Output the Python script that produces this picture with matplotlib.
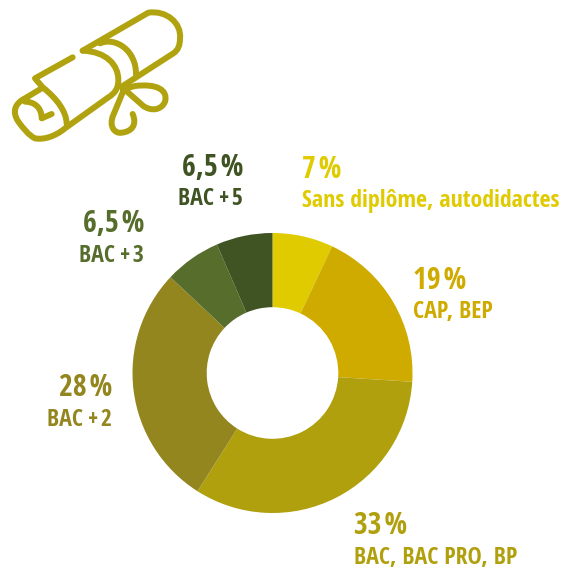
import matplotlib
matplotlib.use("Agg")
import matplotlib.pyplot as plt
from matplotlib import font_manager as fm
from matplotlib.path import Path
from matplotlib.patches import PathPatch

shares = [7, 19, 33, 28, 6.5, 6.5]
percents = ["7\u200a%", "19\u200a%", "33\u200a%", "28\u200a%", "6,5\u200a%", "6,5\u200a%"]
names = ["Sans diplôme, autodidactes", "CAP, BEP", "BAC, BAC PRO, BP",
         "BAC\u2009+\u200a2", "BAC\u2009+\u200a3", "BAC\u2009+\u200a5"]
colors = ["#DFCB00", "#CFAB00", "#B0A00E", "#93861F", "#576D2C", "#3F5323"]

# position du texte en pixels: x, ligne de base du %, ligne de base du nom, alignement
label_pos = [(302, 178, 207, "left"), (413, 289, 318, "left"), (354, 534, 564, "left"),
             (112, 396, 426, "right"), (144, 232, 262, "right"), (243, 176, 205, "right")]

icon_color = "#B0A30F"

# tracés de l'icône, coordonnées du zoom x3
M, L, C = Path.MOVETO, Path.LINETO, Path.CURVE4
icon_paths = [
    [(M, (218, 172)), (L, (105, 235)), (L, (128, 262)),
     (C, (170, 295)), (C, (200, 335)), (C, (200, 372))],
    [(M, (248, 152)), (L, (445, 38)), (C, (500, 30)), (C, (545, 70)), (C, (540, 115)),
     (C, (540, 135)), (C, (535, 150)), (C, (520, 160)), (L, (365, 260))],
    [(M, (248, 152)), (C, (320, 155)), (C, (355, 195)), (C, (355, 240)),
     (C, (355, 265)), (C, (345, 280)), (C, (325, 292)), (L, (195, 385)),
     (C, (165, 410)), (C, (130, 420)), (C, (105, 415)),
     (C, (85, 405)), (C, (70, 385)), (C, (55, 365)),
     (C, (35, 335)), (C, (45, 310)), (C, (75, 295)), (L, (125, 265))],
    [(M, (300, 130)), (C, (345, 110)), (C, (410, 150)), (C, (408, 225))],
    [(M, (75, 305)), (C, (100, 305)), (C, (125, 320)), (C, (125, 355)), (L, (155, 342))],
    [(M, (368, 268)), (L, (405, 258)), (C, (470, 250)), (C, (505, 270)), (C, (495, 305)),
     (C, (485, 330)), (C, (455, 335)), (C, (430, 318)), (L, (378, 272))],
    [(M, (372, 268)), (L, (340, 345)), (C, (325, 380)), (C, (345, 402)), (C, (365, 398)),
     (C, (395, 395)), (C, (412, 375)), (C, (398, 342))],
]


def pick_font():
    for name in ["Open Sans Condensed", "Liberation Sans Narrow", "Roboto Condensed", "Open Sans"]:
        try:
            fm.findfont(name, fallback_to_default=False)
            return name
        except ValueError:
            continue
    return "DejaVu Sans"


plt.rcParams["font.family"] = [pick_font(), "DejaVu Sans"]

W, H = 562, 569
fig = plt.figure(figsize=(W / 100, H / 100), dpi=100)

# fond en coordonnées pixels
bg = fig.add_axes([0, 0, 1, 1])
bg.set_xlim(0, W)
bg.set_ylim(H, 0)
bg.axis("off")

for segs in icon_paths:
    codes = [s[0] for s in segs]
    verts = [(s[1][0] / 3, s[1][1] / 3) for s in segs]
    bg.add_patch(PathPatch(Path(verts, codes), fill=False, edgecolor=icon_color, lw=4.3,
                           capstyle="round", joinstyle="round"))

# donut
cx, cy, r = 272.5, 373, 140
pie_ax = fig.add_axes([(cx - r) / W, 1 - (cy + r) / H, 2 * r / W, 2 * r / H])
pie_ax.pie(shares, colors=colors, startangle=90, counterclock=False, radius=1,
           wedgeprops=dict(width=0.53, linewidth=0))
pie_ax.set_xlim(-1, 1)
pie_ax.set_ylim(-1, 1)

for i in range(len(shares)):
    x, y1, y2, ha = label_pos[i]
    bg.text(x, y1, percents[i], color=colors[i], fontsize=21.5, fontweight="bold", ha=ha, va="baseline")
    bg.text(x, y2, names[i], color=colors[i], fontsize=17.2, fontweight="bold", ha=ha, va="baseline")

fig.savefig("out.png", dpi=100)
